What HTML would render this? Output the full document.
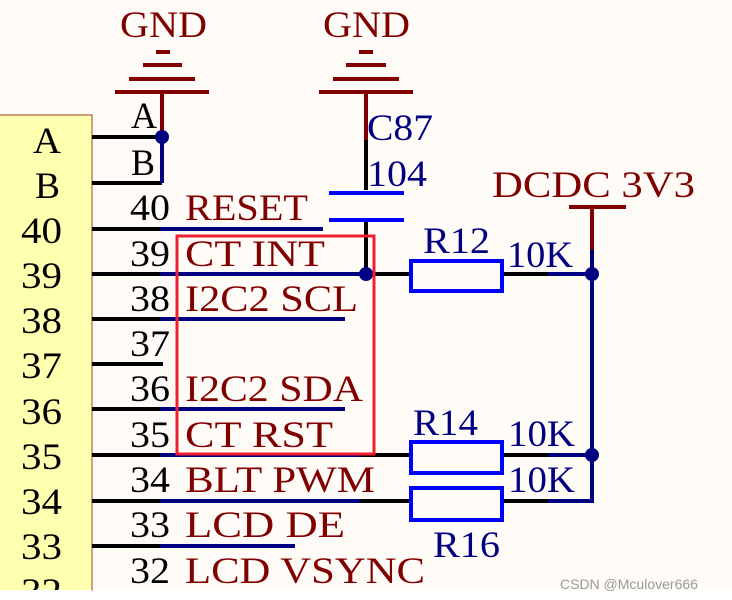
<!DOCTYPE html>
<html><head><meta charset="utf-8"><style>
html,body{margin:0;padding:0;background:#fffcf8;}
svg{display:block}
text{font-family:"Liberation Serif",serif;font-size:37px}
.k{fill:#000}.r{fill:#800000}.b{fill:#000080}
</style></head><body>
<svg width="732" height="600" viewBox="0 0 732 600">
<rect x="0" y="590" width="732" height="10" fill="#fff"/>
<rect x="-1" y="115" width="93" height="476" fill="#ffffb0" stroke="#a04020" stroke-width="1"/>
<g class="k" style="font-size:40px">
<text x="33" y="153" textLength="28" lengthAdjust="spacingAndGlyphs">A</text>
<text x="35" y="198" textLength="25" lengthAdjust="spacingAndGlyphs">B</text>
<text x="21" y="243" textLength="41" lengthAdjust="spacingAndGlyphs">40</text>
<text x="21" y="288" textLength="41" lengthAdjust="spacingAndGlyphs">39</text>
<text x="21" y="333" textLength="41" lengthAdjust="spacingAndGlyphs">38</text>
<text x="21" y="378" textLength="41" lengthAdjust="spacingAndGlyphs">37</text>
<text x="21" y="424" textLength="41" lengthAdjust="spacingAndGlyphs">36</text>
<text x="21" y="469" textLength="41" lengthAdjust="spacingAndGlyphs">35</text>
<text x="21" y="514" textLength="41" lengthAdjust="spacingAndGlyphs">34</text>
<text x="21" y="559" textLength="41" lengthAdjust="spacingAndGlyphs">33</text>
<text x="21" y="604" textLength="41" lengthAdjust="spacingAndGlyphs">32</text>
</g>
<rect x="0" y="590" width="92" height="10" fill="#fff"/>
<g stroke="#800000" stroke-width="4">
<line x1="156" y1="52" x2="170" y2="52"/><line x1="143" y1="65" x2="182" y2="65"/><line x1="129" y1="79" x2="195" y2="79"/><line x1="115" y1="92" x2="209" y2="92"/>
<line x1="162" y1="92" x2="162" y2="132"/>
<line x1="359" y1="52" x2="373" y2="52"/><line x1="346" y1="65" x2="386" y2="65"/><line x1="333" y1="79" x2="399" y2="79"/><line x1="319" y1="92" x2="413" y2="92"/>
<line x1="366" y1="92" x2="366" y2="140"/>
<line x1="569" y1="207" x2="626" y2="207"/><line x1="592" y1="207" x2="592" y2="250"/>
</g>
<g class="r" style="font-size:40px">
<text x="120" y="37" textLength="87" lengthAdjust="spacingAndGlyphs">GND</text>
<text x="323" y="37" textLength="87" lengthAdjust="spacingAndGlyphs">GND</text>
<text x="492" y="197" textLength="203" lengthAdjust="spacingAndGlyphs">DCDC  3V3</text>
</g>
<g stroke="#000" stroke-width="4">
<line x1="92" y1="137" x2="162" y2="137"/><line x1="92" y1="183" x2="162" y2="183"/>
<line x1="92" y1="229" x2="160" y2="229"/><line x1="92" y1="274" x2="160" y2="274"/>
<line x1="366" y1="140" x2="366" y2="190"/><line x1="366" y1="222" x2="366" y2="274"/>
<line x1="366" y1="274" x2="410" y2="274"/><line x1="503" y1="274" x2="548" y2="274"/>
<line x1="360" y1="455" x2="410" y2="455"/><line x1="503" y1="455" x2="548" y2="455"/>
<line x1="360" y1="501" x2="410" y2="501"/><line x1="503" y1="501" x2="548" y2="501"/>
</g>
<g stroke="#000080" stroke-width="4">
<line x1="162" y1="137" x2="162" y2="183"/>
<line x1="160" y1="229" x2="323" y2="229"/>
<line x1="160" y1="274" x2="366" y2="274"/>
<line x1="160" y1="319" x2="345" y2="319"/>
<line x1="160" y1="409" x2="345" y2="409"/>
<line x1="160" y1="455" x2="360" y2="455"/>
<line x1="160" y1="501" x2="360" y2="501"/>
<line x1="160" y1="546" x2="295" y2="546"/>
<line x1="548" y1="274" x2="592" y2="274"/>
<line x1="548" y1="455" x2="592" y2="455"/>
<line x1="548" y1="501" x2="594" y2="501"/>
<line x1="592" y1="250" x2="592" y2="503"/>
</g>
<g stroke="#000" stroke-width="4">
<line x1="92" y1="319" x2="160" y2="319"/><line x1="92" y1="364" x2="163" y2="364"/>
<line x1="92" y1="409" x2="160" y2="409"/><line x1="92" y1="455" x2="160" y2="455"/>
<line x1="92" y1="501" x2="160" y2="501"/><line x1="92" y1="546" x2="160" y2="546"/>
</g>
<g stroke="#0000ff" stroke-width="4">
<line x1="329" y1="193" x2="404" y2="193"/><line x1="329" y1="220" x2="404" y2="220"/>
</g>
<g fill="none" stroke="#0000ff" stroke-width="4">
<rect x="411" y="261" width="91" height="30"/>
<rect x="411" y="442" width="91" height="31"/>
<rect x="411" y="488" width="91" height="32"/>
</g>
<g fill="#000080">
<circle cx="162" cy="137" r="7"/><circle cx="366" cy="274" r="7"/>
<circle cx="592" cy="274" r="7"/><circle cx="592" cy="455" r="7"/>
</g>
<rect x="177" y="236" width="197" height="218" fill="none" stroke="#ee2030" stroke-width="3"/>
<g class="k">
<text x="131" y="128" textLength="26" lengthAdjust="spacingAndGlyphs">A</text>
<text x="131" y="175" textLength="24" lengthAdjust="spacingAndGlyphs">B</text>
<text x="130" y="220" textLength="40" lengthAdjust="spacingAndGlyphs">40</text>
<text x="130" y="266" textLength="40" lengthAdjust="spacingAndGlyphs">39</text>
<text x="130" y="311" textLength="40" lengthAdjust="spacingAndGlyphs">38</text>
<text x="130" y="356" textLength="40" lengthAdjust="spacingAndGlyphs">37</text>
<text x="130" y="401" textLength="40" lengthAdjust="spacingAndGlyphs">36</text>
<text x="130" y="447" textLength="40" lengthAdjust="spacingAndGlyphs">35</text>
<text x="130" y="492" textLength="40" lengthAdjust="spacingAndGlyphs">34</text>
<text x="130" y="537" textLength="40" lengthAdjust="spacingAndGlyphs">33</text>
<text x="130" y="583" textLength="40" lengthAdjust="spacingAndGlyphs">32</text>
</g>
<g class="r">
<text x="185" y="220" textLength="123" lengthAdjust="spacingAndGlyphs">RESET</text>
<text x="185" y="266" textLength="140" lengthAdjust="spacingAndGlyphs">CT  INT</text>
<text x="185" y="311" textLength="173" lengthAdjust="spacingAndGlyphs">I2C2  SCL</text>
<text x="185" y="401" textLength="178" lengthAdjust="spacingAndGlyphs">I2C2  SDA</text>
<text x="185" y="447" textLength="148" lengthAdjust="spacingAndGlyphs">CT  RST</text>
<text x="185" y="492" textLength="190" lengthAdjust="spacingAndGlyphs">BLT  PWM</text>
<text x="185" y="537" textLength="160" lengthAdjust="spacingAndGlyphs">LCD  DE</text>
<text x="185" y="583" textLength="240" lengthAdjust="spacingAndGlyphs">LCD  VSYNC</text>
</g>
<g class="b">
<text x="367" y="140" textLength="66" lengthAdjust="spacingAndGlyphs">C87</text>
<text x="367" y="186" textLength="60" lengthAdjust="spacingAndGlyphs">104</text>
<text x="423" y="253" textLength="67" lengthAdjust="spacingAndGlyphs">R12</text>
<text x="507" y="267" textLength="66" lengthAdjust="spacingAndGlyphs">10K</text>
<text x="413" y="435" textLength="65" lengthAdjust="spacingAndGlyphs">R14</text>
<text x="508" y="446" textLength="67" lengthAdjust="spacingAndGlyphs">10K</text>
<text x="508" y="492" textLength="67" lengthAdjust="spacingAndGlyphs">10K</text>
<text x="433" y="557" textLength="67" lengthAdjust="spacingAndGlyphs">R16</text>
</g>
<text x="560" y="589" style="font-family:'Liberation Sans',sans-serif;font-size:14px" fill="#999">CSDN @Mculover666</text>
</svg>
</body></html>
